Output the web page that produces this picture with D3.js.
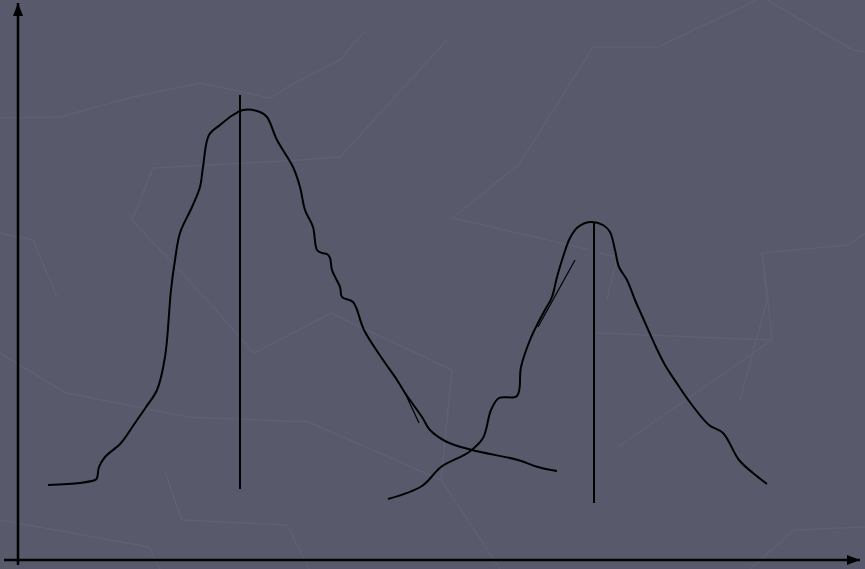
<!DOCTYPE html>
<html>
<head>
<meta charset="utf-8">
<script src="https://cdn.jsdelivr.net/npm/d3@7"></script>
<style>
  html, body { margin: 0; padding: 0; background: #585a6b; }
  svg { display: block; }
</style>
</head>
<body>
<div id="chart"></div>
<script>
// curve values: [position, intensity] in axis units (origin at the axes corner)
var peakA = [[30,75],[62,77],[77,80],[79,82],[81,93],[87,103],[103,117],[117,137],[128,153],[139,170],
  [147,203],[153,270],[157,300],[162,327],[174,353],[182,373],[185,393],[191,425],[202,435],[215,445],
  [225,450],[242,448],[249,443],[259,420],[275,393],[282,373],[287,350],[295,333],[299,310],[304,307],
  [309,306],[312,302],[314,290],[322,273],[324,263],[335,258],[346,230],[363,203],[379,180],[387,167],
  [404,143],[412,130],[429,118],[454,110],[500,100],[520,93],[539,89]];
var peakB = [[370,61],[404,74],[423,93],[451,108],[465,122],[473,150],[481,162],[499,164],[503,193],
  [512,220],[520,237],[527,250],[534,263],[539,283],[545,303],[552,322],[560,333],[572,338],[585,335],
  [592,328],[597,310],[601,293],[609,280],[617,260],[625,242],[637,215],[647,195],[660,175],[674,155],
  [691,135],[705,127],[721,100],[735,87],[749,76]];
// stray pen strokes where the curves were redrawn
var strokeA = [[387,167],[401,137]];
var strokeB = [[557,300],[520,233]];
// vertical markers at the two maxima: [position, bottom, top]
var markers = [[222,71,465],[576,57,338]];

// faint template lines in the background (pixel polylines)
var bgLines = [
  [[0,118],[60,117],[133,97],[200,83],[270,98],[300,80],[340,60],[363,33]],
  [[300,160],[153,168],[132,220],[207,300],[254,353],[331,313],[452,370],[441,480]],
  [[300,160],[340,157],[447,40]],
  [[590,250],[453,218],[520,163],[593,47],[658,47],[757,0]],
  [[767,0],[853,50],[865,52]],
  [[0,233],[33,240],[57,297]],
  [[0,353],[66,393],[188,417],[309,422],[441,480],[500,569]],
  [[596,333],[772,340],[767,290],[762,253],[848,245],[865,233]],
  [[618,447],[772,340]],
  [[600,253],[617,257],[607,300]],
  [[865,527],[794,530],[750,569]],
  [[165,472],[182,520],[287,525],[309,569]],
  [[0,520],[149,547],[160,569]],
  [[762,253],[767,300],[740,400]]
];

var width = 865, height = 569;
var svg = d3.select("#chart").append("svg")
  .attr("width", width)
  .attr("height", height);

svg.append("rect").attr("width", width).attr("height", height).attr("fill", "#585a6b");

svg.selectAll(".bg")
  .data(bgLines)
  .enter()
  .append("path")
  .attr("class", "bg")
  .attr("d", d3.line())
  .attr("fill", "none")
  .attr("stroke", "#5e6073")
  .attr("stroke-width", 1.5);

var x = d3.scaleLinear().domain([0, 842]).range([18, 860]);
var y = d3.scaleLinear().domain([0, 555]).range([560, 5]);

var line = d3.line()
  .x(function (d) { return x(d[0]); })
  .y(function (d) { return y(d[1]); })
  .curve(d3.curveCatmullRom.alpha(0.5));

// arrow heads
var defs = svg.append("defs");
defs.append("marker")
  .attr("id", "arrow")
  .attr("viewBox", "0 0 13 10")
  .attr("refX", 13).attr("refY", 5)
  .attr("markerWidth", 13).attr("markerHeight", 10)
  .attr("markerUnits", "userSpaceOnUse")
  .attr("orient", "auto")
  .append("path")
  .attr("d", "M0,0L13,5L0,10Z")
  .attr("fill", "#000");

// axes
svg.append("line")
  .attr("x1", x(0)).attr("y1", y(-5))
  .attr("x2", x(0)).attr("y2", y(557))
  .attr("stroke", "#000").attr("stroke-width", 2.5)
  .attr("marker-end", "url(#arrow)");
svg.append("line")
  .attr("x1", x(-14)).attr("y1", y(0))
  .attr("x2", x(842)).attr("y2", y(0))
  .attr("stroke", "#000").attr("stroke-width", 2.5)
  .attr("marker-end", "url(#arrow)");

// the two peaks
svg.selectAll(".peak")
  .data([peakA, peakB])
  .enter()
  .append("path")
  .attr("class", "peak")
  .attr("d", line)
  .attr("fill", "none")
  .attr("stroke", "#000")
  .attr("stroke-width", 2)
  .attr("stroke-linejoin", "round");

svg.selectAll(".stroke")
  .data([strokeA, strokeB])
  .enter()
  .append("path")
  .attr("class", "stroke")
  .attr("d", d3.line().x(function (d) { return x(d[0]); }).y(function (d) { return y(d[1]); }))
  .attr("fill", "none")
  .attr("stroke", "#000")
  .attr("stroke-width", 1.2);

svg.selectAll(".marker")
  .data(markers)
  .enter()
  .append("line")
  .attr("class", "marker")
  .attr("x1", function (d) { return x(d[0]); })
  .attr("x2", function (d) { return x(d[0]); })
  .attr("y1", function (d) { return y(d[1]); })
  .attr("y2", function (d) { return y(d[2]); })
  .attr("stroke", "#000")
  .attr("stroke-width", 2);
</script>
</body>
</html>
